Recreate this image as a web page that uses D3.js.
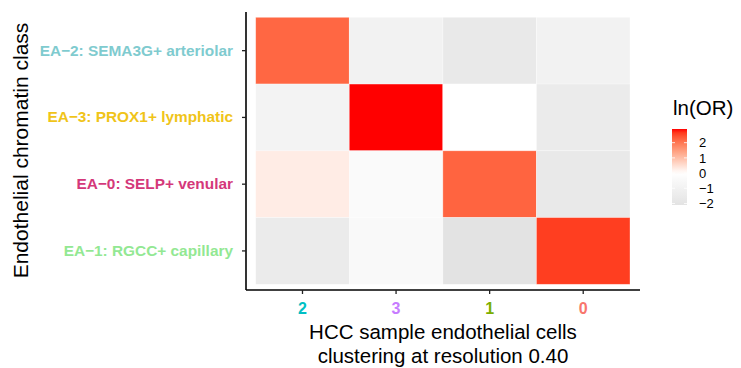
<!DOCTYPE html>
<html>
<head>
<meta charset="utf-8">
<script src="https://cdn.jsdelivr.net/npm/d3@7"></script>
<style>
  body { margin: 0; background: #fff; }
  text { font-family: "Liberation Sans", Arial, Helvetica, sans-serif; }
</style>
</head>
<body>
<svg id="chart" width="741" height="368"></svg>
<script>
// clusters on x, chromatin classes on y (top to bottom)
var clusters = ["2", "3", "1", "0"];
var clusterColors = ["#00BFC4", "#C77CFF", "#7CAE00", "#F8766D"];
var classes = ["EA\u22122: SEMA3G+ arteriolar", "EA\u22123: PROX1+ lymphatic",
               "EA\u22120: SELP+ venular", "EA\u22121: RGCC+ capillary"];
var classColors = ["#7FCBCF", "#F0C419", "#D4387A", "#93E893"];

// ln(OR), one row per class, columns in cluster order
var rowEA2 = [2.20, -0.96, -1.63, -0.96];
var rowEA3 = [-0.90, 2.90, 0.00, -1.48];
var rowEA0 = [0.29, -0.39, 2.23, -1.63];
var rowEA1 = [-1.48, -0.45, -2.10, 2.62];
var legendTicks = [2, 1, 0, -1, -2];

let rows = [rowEA2, rowEA3, rowEA0, rowEA1];
let cells = [];
rows.forEach(function(r, i){
    r.forEach(function(v, j){
        cells.push({cls: classes[i], cl: clusters[j], v: v});
    });
});

let svg = d3.select("#chart");

let x = d3.scaleBand().domain(clusters).range([255.7, 630]);
let y = d3.scaleBand().domain(classes).range([17.3, 284.3]);
let vmin = d3.min(cells, d => d.v), vmax = d3.max(cells, d => d.v);
let color = d3.scaleLinear()
    .domain([vmin, 0, vmax])
    .range(["#e3e3e3", "#ffffff", "#ff0000"])
    .interpolate(d3.interpolateLab);

// tiles
svg.append("g").selectAll("rect")
    .data(cells)
    .join("rect")
    .attr("x", d => x(d.cl))
    .attr("y", d => y(d.cls))
    .attr("width", x.bandwidth())
    .attr("height", y.bandwidth())
    .attr("fill", d => color(d.v))
    .attr("stroke", "#fff")
    .attr("stroke-opacity", 0.45)
    .attr("stroke-width", 0.7);

// axes
let xAxis = svg.append("g")
    .attr("transform", "translate(0,290)")
    .call(d3.axisBottom(x).tickSizeInner(4).tickSizeOuter(0).tickPadding(9));
let yAxis = svg.append("g")
    .attr("transform", "translate(246,0)")
    .call(d3.axisLeft(y).tickSizeInner(4).tickSizeOuter(0).tickPadding(9));

xAxis.select(".domain").attr("d", "M246,0H640");
yAxis.select(".domain").attr("d", "M0,12V290");
svg.selectAll(".domain").attr("stroke", "#000").attr("stroke-width", 1.6);
svg.selectAll(".tick line").attr("stroke", "#222").attr("stroke-width", 1.3);

xAxis.selectAll(".tick text")
    .attr("font-size", 16)
    .attr("font-weight", "bold")
    .attr("font-family", "'Liberation Sans', Arial, sans-serif")
    .attr("fill", (d, i) => clusterColors[i]);
yAxis.selectAll(".tick text")
    .attr("font-size", 15.4)
    .attr("font-weight", "bold")
    .attr("font-family", "'Liberation Sans', Arial, sans-serif")
    .attr("fill", (d, i) => classColors[i]);

// axis titles
let xt = svg.append("text")
    .attr("text-anchor", "middle")
    .attr("font-size", 20.5)
    .attr("fill", "#000");
xt.append("tspan").attr("x", 443).attr("y", 339).text("HCC sample endothelial cells");
xt.append("tspan").attr("x", 443).attr("y", 363).text("clustering at resolution 0.40");

svg.append("text")
    .attr("transform", "translate(27.5,150.5) rotate(-90)")
    .attr("text-anchor", "middle")
    .attr("font-size", 21)
    .attr("fill", "#000")
    .text("Endothelial chromatin class");

// < --------- colour bar legend -------------> //
let ly = d3.scaleLinear().domain([vmin, vmax]).range([205, 129]);
let grad = svg.append("defs").append("linearGradient")
    .attr("id", "lgrad")
    .attr("x1", 0).attr("y1", 1).attr("x2", 0).attr("y2", 0);
d3.range(0, 1.0001, 0.05).forEach(function(t){
    grad.append("stop")
        .attr("offset", t)
        .attr("stop-color", color(vmin + t * (vmax - vmin)));
});

svg.append("text")
    .attr("x", 673).attr("y", 115)
    .attr("font-size", 20.5)
    .text("ln(OR)");

svg.append("rect")
    .attr("x", 672).attr("y", ly(vmax))
    .attr("width", 15).attr("height", ly(vmin) - ly(vmax))
    .attr("fill", "url(#lgrad)");

let lg = svg.append("g");
legendTicks.forEach(function(t){
    lg.append("line").attr("x1", 672).attr("x2", 675)
        .attr("y1", ly(t)).attr("y2", ly(t))
        .attr("stroke", "#fff").attr("stroke-width", 0.8);
    lg.append("line").attr("x1", 684).attr("x2", 687)
        .attr("y1", ly(t)).attr("y2", ly(t))
        .attr("stroke", "#fff").attr("stroke-width", 0.8);
    lg.append("text")
        .attr("x", 699).attr("y", ly(t))
        .attr("dy", "0.36em")
        .attr("font-size", 13)
        .text(t < 0 ? "\u2212" + Math.abs(t) : String(t));
});
</script>
</body>
</html>
